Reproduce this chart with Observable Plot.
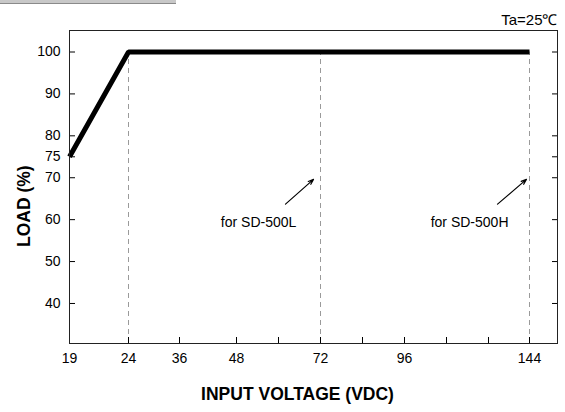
<!DOCTYPE html>
<html><head><meta charset="utf-8">
<script src="https://cdn.jsdelivr.net/npm/d3@7"></script>
<script src="https://cdn.jsdelivr.net/npm/@observablehq/plot@0.6"></script>
<style>
body{margin:0;background:#fff;font-family:"Liberation Sans",Arial,sans-serif;}
#wrap{position:relative;width:565px;height:412px;}
#banner{position:absolute;left:0;top:0;width:176px;height:3px;background:#c8c8c8;border-bottom:1px solid #8a8a8a;}
</style></head><body><div id="wrap"><div id="banner"></div></div>
<script>
// curve data
const voltage = [19, 24, 144];
const load = [75, 100, 100];
// axis ticks
const xTicks = [19, 24, 36, 48, 60, 72, 84, 96, 108, 120, 144];
const xTickLabels = ["19", "24", "36", "48", "", "72", "", "96", "", "", "144"];
const yTicks = [40, 50, 60, 70, 75, 80, 90, 100];
// dashed model limits
const modelVoltages = [24, 72, 144];
const modelTopLoad = [100, 100, 100];
// annotations
const notes = ["for SD-500L", "for SD-500H"];
const noteX = [54.3, 114.6];
const noteY = [59.4, 59.4];
const arrowX1 = [62, 125.3];
const arrowY1 = [63.7, 63.7];
const arrowX2 = [70, 142.2];
const arrowY2 = [69.6, 69.6];

const curve = voltage.map((v, i) => ({v, load: load[i]}));
const models = modelVoltages.map((v, i) => ({v, top: modelTopLoad[i]}));
const noteData = notes.map((t, i) => ({t, x: noteX[i], y: noteY[i], x1: arrowX1[i], y1: arrowY1[i], x2: arrowX2[i], y2: arrowY2[i]}));
const yDomain = [30.45, 105.13];

const chart = Plot.plot({
  width: 565,
  height: 412,
  marginLeft: 69,
  marginRight: 8,
  marginTop: 30,
  marginBottom: 69,
  style: {fontFamily: "'Liberation Sans', Arial, sans-serif", fontSize: "14px", color: "#000", background: "#fff", overflow: "visible"},
  x: {type: "linear", domain: xTicks, range: [69, 128, 179, 236, 278, 320, 362, 404, 446, 488, 529]},
  y: {domain: yDomain},
  marks: [
    Plot.ruleX(models, {x: "v", y1: yDomain[0], y2: "top", stroke: "#9a9a9a", strokeWidth: 1, strokeDasharray: "5,4"}),
    Plot.line(curve, {x: "v", y: "load", stroke: "#000", strokeWidth: 5, strokeLinejoin: "miter", strokeLinecap: "butt"}),
    Plot.axisY({ticks: yTicks, tickSize: -6, tickPadding: 15, label: null, tickFormat: d => String(d), fontSize: 14}),
    Plot.axisY({anchor: "right", ticks: yTicks, tickSize: -6, label: null, tickFormat: () => ""}),
    Plot.axisX({ticks: xTicks, tickSize: -6, tickPadding: 16, label: null, tickFormat: d => xTickLabels[xTicks.indexOf(d)], fontSize: 14}),
    Plot.frame({stroke: "#222", strokeWidth: 1}),
    Plot.arrow(noteData, {x1: "x1", y1: "y1", x2: "x2", y2: "y2", stroke: "#000", strokeWidth: 1.2, headLength: 7, headAngle: 40}),
    Plot.text(noteData, {x: "x", y: "y", text: "t", fontSize: 14, fill: "#000"}),
    Plot.text(["Ta=25℃"], {frameAnchor: "top-right", dy: -16, textAnchor: "end", fontSize: 15, fill: "#000"}),
    Plot.text(["LOAD (%)"], {frameAnchor: "left", rotate: -90, dx: -45, dy: 60, fontSize: 17.5, fontWeight: "bold", fill: "#000"}),
    Plot.text(["INPUT VOLTAGE (VDC)"], {frameAnchor: "bottom", dx: -16, dy: 56, fontSize: 17.5, fontWeight: "bold", fill: "#000"})
  ]
});
document.getElementById("wrap").prepend(chart);
</script>
</body></html>
